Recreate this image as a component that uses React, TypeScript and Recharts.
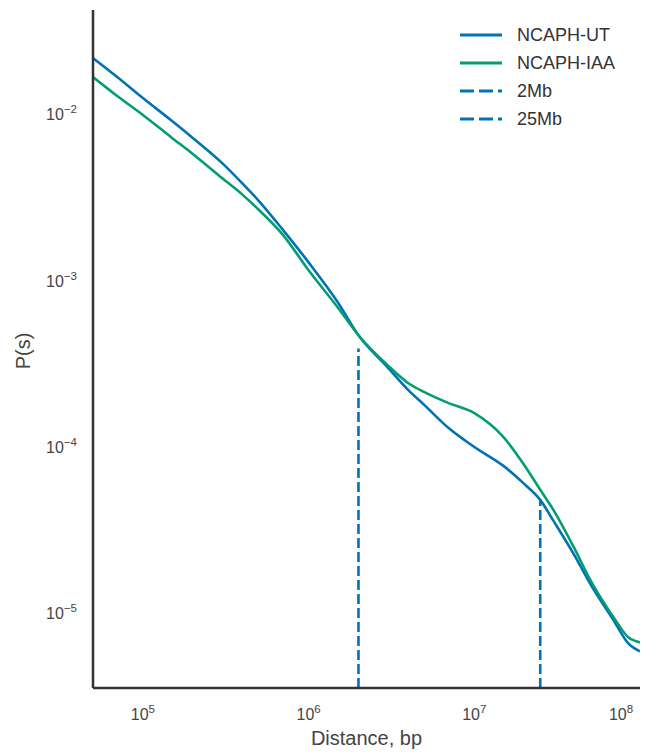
import React from 'react'
import { ComposedChart, Line, XAxis, YAxis, Legend } from 'recharts'

// distance (bp) sampled along the curves
const DISTANCE = [
  5e4, 7e4, 1e5, 1.5e5, 2e5, 3e5, 4e5, 5e5, 7e5, 1e6, 1.5e6, 2e6, 3e6,
  4e6, 5e6, 7e6, 1e7, 1.5e7, 2e7, 2.5e7, 3e7, 4e7, 5e7, 7e7, 8.5e7, 1e8,
]

const NCAPH_UT = [
  0.02106, 0.01621, 0.01213, 0.00883, 0.00699, 0.00495, 0.00371, 0.00293,
  0.00196, 0.00125, 7.2e-4, 4.56e-4, 2.93e-4, 2.135e-4, 1.736e-4, 1.264e-4,
  9.73e-5, 7.49e-5, 5.84e-5, 4.68e-5, 3.51e-5, 2.195e-5, 1.471e-5, 8.71e-6,
  6.43e-6, 5.76e-6,
]

const NCAPH_IAA = [
  0.01621, 0.01247, 0.0096, 0.00699, 0.0056, 0.00402, 0.00318, 0.00259,
  0.00183, 0.00112, 6.7e-4, 4.56e-4, 3.01e-4, 2.35e-4, 2.077e-4, 1.784e-4,
  1.554e-4, 1.116e-4, 7.59e-5, 5.38e-5, 4.08e-5, 2.416e-5, 1.554e-5, 9.08e-6,
  6.99e-6, 6.52e-6,
]

// vertical dashed markers: position and the height they reach
const MARKER_LABELS = ['2Mb', '25Mb']
const MARKER_X = [2e6, 2.5e7]
const MARKER_TOP = [3.8e-4, 4.7e-5]

const SERIES_NAMES = ['NCAPH-UT', 'NCAPH-IAA', ...MARKER_LABELS]

const X_TICKS = [1e5, 1e6, 1e7, 1e8]
const Y_TICKS = [1e-5, 1e-4, 1e-3, 1e-2]
const X_DOMAIN = [5e4, 1e8]
const Y_DOMAIN = [3.47e-6, 0.041]

const BLUE = '#0173b2'
const GREEN = '#029e73'
const TEXT = '#444'
const FONT = '"Liberation Sans", Arial, sans-serif'

const utData = DISTANCE.map((d, i) => ({ d, p: NCAPH_UT[i] }))
const iaaData = DISTANCE.map((d, i) => ({ d, p: NCAPH_IAA[i] }))
const markerData = MARKER_X.map((d, i) => [
  { d, p: Y_DOMAIN[0] },
  { d, p: MARKER_TOP[i] },
])

const sup = (v: number) => {
  const e = Math.round(Math.log10(v))
  return e < 0 ? `\u2212${-e}` : `${e}`
}

const XTick = ({ x, y, payload }: any) => (
  <text x={x} y={y + 32} textAnchor="middle" fill={TEXT} fontSize={16} fontFamily={FONT}>
    <tspan>10</tspan>
    <tspan dy={-7} fontSize={11.5}>{sup(payload.value)}</tspan>
  </text>
)

const YTick = ({ x, y, payload }: any) => (
  <text x={x} y={y + 8} textAnchor="end" fill={TEXT} fontSize={16} fontFamily={FONT}>
    <tspan>10</tspan>
    <tspan dy={-7} fontSize={11.5}>{sup(payload.value)}</tspan>
  </text>
)

const LegendBox = ({ payload }: any) => {
  const items = [...(payload || [])].sort(
    (a: any, b: any) => SERIES_NAMES.indexOf(a.value) - SERIES_NAMES.indexOf(b.value),
  )
  return (
    <div style={{ fontFamily: FONT, fontSize: 18, color: '#333' }}>
      {items.map((entry: any) => {
        const dashed = MARKER_LABELS.includes(entry.value)
        return (
          <div key={entry.value} style={{ height: 28, display: 'flex', alignItems: 'center' }}>
            <svg width={42} height={6} style={{ marginRight: 15 }}>
              <line x1={0} y1={3} x2={42} y2={3} stroke={entry.color} strokeWidth={2.8}
                strokeDasharray={dashed ? '14 5' : undefined} />
            </svg>
            <span>{entry.value}</span>
          </div>
        )
      })}
    </div>
  )
}

export default function App() {
  return (
    <div style={{ position: 'absolute', left: 0, top: 0, background: '#fff' }}>
      <ComposedChart width={657} height={754} margin={{ top: 10, right: 17, bottom: 0, left: 33 }}>
        <XAxis
          dataKey="d"
          type="number"
          scale="log"
          domain={X_DOMAIN}
          ticks={X_TICKS}
          allowDataOverflow
          height={66}
          tickSize={0}
          tickMargin={0}
          tick={<XTick />}
          axisLine={{ stroke: '#333', strokeWidth: 2.5 }}
          tickLine={false}
          label={{
            content: ({ viewBox }: any) => (
              <text x={viewBox.x + viewBox.width / 2} y={viewBox.y + 57} textAnchor="middle"
                fill={TEXT} fontSize={20} fontFamily={FONT}>Distance, bp</text>
            ),
          }}
        />
        <YAxis
          dataKey="p"
          type="number"
          scale="log"
          domain={Y_DOMAIN}
          ticks={Y_TICKS}
          allowDataOverflow
          width={60}
          tickSize={0}
          tickMargin={16}
          tick={<YTick />}
          axisLine={{ stroke: '#333', strokeWidth: 2.5 }}
          tickLine={false}
          label={{
            content: ({ viewBox }: any) => {
              const cx = viewBox.x - 10
              const cy = viewBox.y + viewBox.height / 2 + 2
              return (
                <text x={cx} y={cy} textAnchor="middle" dominantBaseline="central"
                  transform={`rotate(-90 ${cx} ${cy})`} fill={TEXT} fontSize={20} fontFamily={FONT}>
                  P(s)
                </text>
              )
            },
          }}
        />
        <Legend
          layout="vertical"
          align="center"
          verticalAlign="middle"
          content={<LegendBox />}
          wrapperStyle={{ position: 'absolute', top: 21, left: 460, width: 'auto' }}
        />
        <Line data={utData} dataKey="p" name="NCAPH-UT" type="monotone" stroke={BLUE}
          strokeWidth={2.6} dot={false} isAnimationActive={false} />
        <Line data={iaaData} dataKey="p" name="NCAPH-IAA" type="monotone" stroke={GREEN}
          strokeWidth={2.6} dot={false} isAnimationActive={false} />
        {markerData.map((pts, i) => (
          <Line key={MARKER_LABELS[i]} data={pts} dataKey="p" name={MARKER_LABELS[i]}
            type="linear" stroke={BLUE} strokeWidth={2.6} strokeDasharray="10 4"
            dot={false} isAnimationActive={false} />
        ))}
      </ComposedChart>
    </div>
  )
}
